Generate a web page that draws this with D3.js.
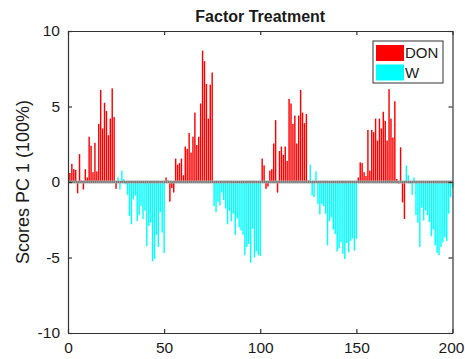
<!DOCTYPE html>
<html>
<head>
<meta charset="utf-8">
<script src="https://cdn.jsdelivr.net/npm/d3@7"></script>
<style>
  body { margin: 0; background: #fff; }
  text { font-family: "Liberation Sans", Arial, sans-serif; fill: #1a1a1a; }
</style>
</head>
<body>
<svg width="465" height="359"></svg>
<script>
"use strict";

// scores per sample, blocks of 25: DON, W, DON, W, DON, W, DON, W
const don1 = [0.6, 1.2, 0.85, 0.8, -0.75, 1.85, 0.1, -0.5, 0.85, 0.3, 3.0, 2.4, 0.65, 2.6, 0.7, 3.85, 6.1, 3.55, 5.25, 4.7, 3.1, 4.2, 6.2, 4.3, -0.45];
const w1 = [0.3, -0.5, 0.75, 0.2, -0.15, -0.85, -2.25, -2.8, -1.15, -0.9, -2.6, -2.2, -1.6, -2.45, -1.9, -4.25, -2.9, -2.7, -5.25, -5.1, -3.5, -4.3, -2.0, -3.35, -4.7];
const don2 = [0.3, 0.1, -1.3, -0.4, -0.7, 1.55, 1.15, 1.25, 1.55, 0.45, 2.35, 2.2, 3.25, 1.95, 3.0, 4.6, 2.45, 3.0, 5.2, 8.7, 8.0, 6.5, 4.2, 6.45, 7.25];
const w2 = [-1.6, -2.0, -1.3, -1.55, -0.7, -1.2, -1.75, -2.8, -1.9, -2.6, -2.1, -3.5, -2.4, -3.0, -3.2, -3.5, -4.85, -4.3, -4.1, -5.35, -3.1, -5.0, -4.6, -4.85, -4.9];
const don3 = [1.55, 1.1, -0.45, -0.3, 0.75, 0.85, 2.55, 4.1, -0.7, 2.05, 2.35, 1.8, 2.35, 1.4, 5.5, 5.2, 3.85, 4.4, 2.55, 4.4, 6.1, 4.6, 3.9, 4.5, 0.1];
const w3 = [1.15, -0.9, -1.0, 0.7, -1.45, -2.15, -1.45, -1.6, -2.1, -4.2, -2.6, -2.35, -3.15, -3.45, -4.6, -4.4, -4.0, -4.75, -5.1, -4.05, -4.65, -3.9, -3.75, -4.55, -3.75];
const don4 = [0.3, 1.3, 1.25, 0.65, 0.4, 3.45, 0.75, 3.45, 3.3, 4.2, 2.75, 4.2, 3.55, 4.65, 4.05, 2.75, 6.15, 4.2, 2.95, 5.35, 0.2, -0.1, 2.3, -1.35, -2.45];
const w4 = [1.1, 0.45, -0.1, -0.85, 0.3, -2.2, -2.7, -4.3, -1.7, -2.55, -1.9, -2.2, -2.65, -3.6, -3.15, -4.2, -4.7, -4.85, -4.3, -4.0, -3.65, -3.9, -2.1, -1.0, -0.35];

const blocks = [["DON", don1], ["W", w1], ["DON", don2], ["W", w2],
                ["DON", don3], ["W", w3], ["DON", don4], ["W", w4]];
const groups = ["DON", "W"];
const xTicks = [0, 50, 100, 150, 200];
const yTicks = [-10, -5, 0, 5, 10];

const plotLeft = 68, plotRight = 452.5, plotTop = 31, plotBottom = 333;

let bars = [];
blocks.forEach(function(b) {
    b[1].forEach(function(v) {
        bars.push({ idx: bars.length + 1, group: b[0], value: v });
    });
});

const xScale = d3.scaleLinear().domain([0, 200]).range([plotLeft, plotRight]);
const yScale = d3.scaleLinear().domain([-10, 10]).range([plotBottom, plotTop]);
const colorScale = d3.scaleOrdinal().domain(groups).range(["#ff0000", "#00ffff"]);
const barW = (xScale(1) - xScale(0)) * 0.75;

const svg = d3.select("svg");

svg.selectAll("rect.bar")
    .data(bars)
    .join("rect")
    .attr("class", "bar")
    .attr("x", d => xScale(d.idx) - barW / 2)
    .attr("width", barW)
    .attr("y", d => yScale(Math.max(0, d.value)))
    .attr("height", d => Math.abs(yScale(d.value) - yScale(0)))
    .attr("fill", d => colorScale(d.group));

// baseline
svg.append("line")
    .attr("x1", plotLeft).attr("x2", plotRight)
    .attr("y1", yScale(0)).attr("y2", yScale(0))
    .attr("stroke", "#aaa").attr("stroke-width", 3);
svg.append("line")
    .attr("x1", plotLeft).attr("x2", plotRight)
    .attr("y1", yScale(0)).attr("y2", yScale(0))
    .attr("stroke", "#444").attr("stroke-width", 1)
    .attr("stroke-dasharray", "1.2,0.72");

// axes box with inward ticks
const fmt = d => String(d);
const axisG = svg.append("g");
axisG.append("g")
    .attr("transform", `translate(0,${plotBottom})`)
    .call(d3.axisBottom(xScale).tickValues(xTicks).tickFormat(fmt).tickSizeInner(-4).tickSizeOuter(0).tickPadding(9));
axisG.append("g")
    .attr("transform", `translate(0,${plotTop})`)
    .call(d3.axisTop(xScale).tickValues(xTicks).tickSizeInner(-4).tickSizeOuter(0).tickFormat(""));
axisG.append("g")
    .attr("transform", `translate(${plotLeft},0)`)
    .call(d3.axisLeft(yScale).tickValues(yTicks).tickFormat(fmt).tickSizeInner(-4).tickSizeOuter(0).tickPadding(8));
axisG.append("g")
    .attr("transform", `translate(${plotRight},0)`)
    .call(d3.axisRight(yScale).tickValues(yTicks).tickSizeInner(-4).tickSizeOuter(0).tickFormat(""));
axisG.selectAll(".domain, .tick line").attr("stroke", "#333").attr("stroke-width", 1.2);
axisG.selectAll(".tick text")
    .attr("font-size", 15.5)
    .attr("font-family", "Liberation Sans, Arial, sans-serif")
    .attr("fill", "#1a1a1a");
// keep the last x label inside the page
axisG.selectAll(".tick text").filter(d => d === 200).attr("dx", -1.5);

// title and y label
svg.append("text")
    .attr("x", (plotLeft + plotRight) / 2).attr("y", 22)
    .attr("text-anchor", "middle")
    .attr("font-size", 16).attr("font-weight", "bold")
    .text("Factor Treatment");
svg.append("text")
    .attr("transform", `translate(29,${(plotTop + plotBottom) / 2}) rotate(-90)`)
    .attr("text-anchor", "middle")
    .attr("font-size", 18)
    .text("Scores PC 1 (100%)");

// legend
const lg = svg.append("g").attr("transform", "translate(373,41)");
lg.append("rect")
    .attr("width", 70).attr("height", 42)
    .attr("fill", "#fff").attr("stroke", "#333").attr("stroke-width", 1);
groups.forEach(function(g, i) {
    lg.append("rect")
        .attr("x", 3).attr("y", 4 + i * 19.5)
        .attr("width", 28).attr("height", 16)
        .attr("fill", colorScale(g));
    lg.append("text")
        .attr("x", 32).attr("y", 12 + i * 19.5)
        .attr("dy", "0.35em")
        .attr("font-size", 15)
        .text(g);
});
</script>
</body>
</html>
